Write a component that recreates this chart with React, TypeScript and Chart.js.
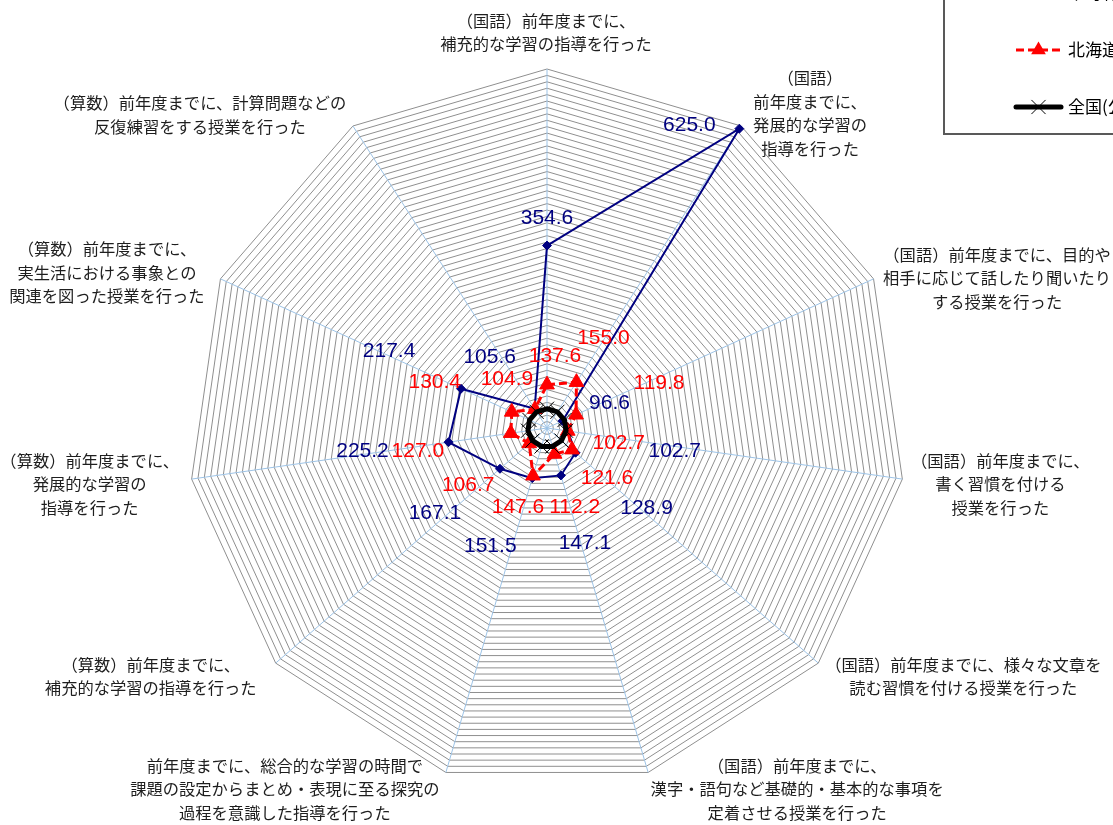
import React, { useEffect, useRef } from 'react';
import { Chart, registerables } from 'chart.js';

Chart.register(...registerables);

// ---- data ----
const categories: string[][] = [
  ['（国語）前年度までに、', '補充的な学習の指導を行った'],
  ['（国語）', '前年度までに、', '発展的な学習の', '指導を行った'],
  ['（国語）前年度までに、目的や', '相手に応じて話したり聞いたり', 'する授業を行った'],
  ['（国語）前年度までに、', '書く習慣を付ける', '授業を行った'],
  ['（国語）前年度までに、様々な文章を', '読む習慣を付ける授業を行った'],
  ['（国語）前年度までに、', '漢字・語句など基礎的・基本的な事項を', '定着させる授業を行った'],
  ['前年度までに、総合的な学習の時間で', '課題の設定からまとめ・表現に至る探究の', '過程を意識した指導を行った'],
  ['（算数）前年度までに、', '補充的な学習の指導を行った'],
  ['（算数）前年度までに、', '発展的な学習の', '指導を行った'],
  ['（算数）前年度までに、', '実生活における事象との', '関連を図った授業を行った'],
  ['（算数）前年度までに、計算問題などの', '反復練習をする授業を行った'],
];

const localName = '市町村(公立)';
const hokkaidoName = '北海道(公立)';
const nationalName = '全国(公立)';

const localValues = [354.6, 625.0, 96.6, 102.7, 128.9, 147.1, 151.5, 167.1, 225.2, 217.4, 105.6];
const hokkaidoValues = [137.6, 155.0, 119.8, 102.7, 121.6, 112.2, 147.6, 106.7, 127.0, 130.4, 104.9];
const nationalValues = [100, 100, 100, 100, 100, 100, 100, 100, 100, 100, 100];

const axisMin = 70;
const axisMax = 630;
const axisStep = 10;

// ---- label placement (pixel offsets from the data point / outer vertex) ----
const localLabelOffsets: [number, number][] = [
  [0, -28], [-50, -4], [47, -19], [107, 19], [71, 54], [24, 67],
  [-42, 67], [-65, 43], [-86, 8], [-72, -39], [-45, -53],
];
const hokkaidoLabelOffsets: [number, number][] = [
  [8, -29], [27, -45], [83, -33], [51, 11], [35, 28], [20, 52],
  [-15, 30], [-61, 41], [-93, 17], [-77, -31], [-28, -31],
];
const categoryLabelOffsets: [number, number][] = [
  [-1, -36.5], [69, -12.5], [123.5, -1], [98, 5], [145, 13], [149, 16.5],
  [-161, 16.5], [-125, 13], [-102, 5], [-113.5, -6.5], [-153, -11],
];

const NAVY = '#000080';
const RED = '#ff0000';
const BLACK = '#000000';
const CAT_FONT = '16.3px "Noto Sans CJK JP"';
const CAT_LINE_H = 23.5;
const NUM_FONT = '21px "Liberation Sans", Arial, sans-serif';

function drawMarker(ctx: CanvasRenderingContext2D, style: string, x: number, y: number, r: number, color: string) {
  ctx.save();
  ctx.fillStyle = color;
  ctx.strokeStyle = color;
  ctx.lineWidth = 1;
  ctx.setLineDash([]);
  ctx.beginPath();
  if (style === 'triangle') {
    for (let k = 0; k < 3; k++) {
      const a = (k * 2 * Math.PI) / 3;
      const px = x + Math.sin(a) * r;
      const py = y - Math.cos(a) * r;
      if (k === 0) ctx.moveTo(px, py); else ctx.lineTo(px, py);
    }
    ctx.closePath();
    ctx.fill();
  } else if (style === 'diamond') {
    ctx.moveTo(x, y - r); ctx.lineTo(x + r, y); ctx.lineTo(x, y + r); ctx.lineTo(x - r, y);
    ctx.closePath();
    ctx.fill();
  } else {
    const d = r * Math.SQRT1_2;
    ctx.moveTo(x - d, y - d); ctx.lineTo(x + d, y + d);
    ctx.moveTo(x + d, y - d); ctx.lineTo(x - d, y + d);
    ctx.stroke();
  }
  ctx.restore();
}

const overlayPlugin = {
  id: 'overlay',
  afterDatasetsDraw(chart: any) {
    const { ctx } = chart;
    const scale = chart.scales.r;
    ctx.save();

    // category labels
    ctx.font = CAT_FONT;
    ctx.fillStyle = '#1e1e1e';
    ctx.textAlign = 'center';
    ctx.textBaseline = 'middle';
    categories.forEach((lines, i) => {
      const p = scale.getPointPosition(i, scale.drawingArea);
      const [dx, dy] = categoryLabelOffsets[i];
      const cx = p.x + dx;
      const cy = p.y + dy;
      lines.forEach((t, j) => {
        ctx.fillText(t, cx, cy + (j - (lines.length - 1) / 2) * CAT_LINE_H);
      });
    });

    // value labels
    ctx.font = NUM_FONT;
    const drawValues = (dsIndex: number, values: number[], offsets: [number, number][], color: string) => {
      const meta = chart.getDatasetMeta(dsIndex);
      ctx.fillStyle = color;
      values.forEach((v, i) => {
        const el = meta.data[i];
        const [dx, dy] = offsets[i];
        ctx.fillText(v.toFixed(1), el.x + dx, el.y + dy + 1);
      });
    };
    drawValues(2, localValues, localLabelOffsets, NAVY);
    drawValues(1, hokkaidoValues, hokkaidoLabelOffsets, RED);

    // legend (partly outside the canvas, as in the original)
    ctx.setLineDash([]);
    ctx.lineWidth = 2;
    ctx.strokeStyle = '#595959';
    ctx.strokeRect(944, -20, 400, 154);

    ctx.font = '17px "Noto Sans CJK JP"';
    ctx.textAlign = 'left';
    ctx.textBaseline = 'middle';
    ctx.fillStyle = '#000';
    const entries = [
      { name: localName, y: -7, color: NAVY, width: 2, dash: [] as number[], marker: 'diamond', mr: 4.5 },
      { name: hokkaidoName, y: 50, color: RED, width: 3, dash: [8, 4], marker: 'triangle', mr: 8.5 },
      { name: nationalName, y: 107, color: BLACK, width: 5, dash: [] as number[], marker: 'cross', mr: 10 },
    ];
    entries.forEach((e) => {
      ctx.save();
      ctx.strokeStyle = e.color;
      ctx.lineWidth = e.width;
      ctx.lineCap = e.width >= 5 ? 'round' : 'butt';
      ctx.setLineDash(e.dash);
      ctx.beginPath();
      ctx.moveTo(1016, e.y);
      ctx.lineTo(1061, e.y);
      ctx.stroke();
      ctx.restore();
      drawMarker(ctx, e.marker, 1038.5, e.y, e.mr, e.color);
      ctx.fillStyle = '#000';
      ctx.fillText(e.name, 1068, e.y);
    });

    ctx.restore();
  },
};

export default function App() {
  const canvasRef = useRef<HTMLCanvasElement>(null);

  useEffect(() => {
    const canvas = canvasRef.current;
    if (!canvas) return;
    const chart = new Chart(canvas, {
      type: 'radar',
      data: {
        labels: categories.map((c) => c.join('')),
        datasets: [
          {
            label: nationalName,
            data: nationalValues,
            borderColor: BLACK,
            borderWidth: 5,
            pointStyle: 'crossRot',
            pointRadius: 10,
            pointBorderWidth: 1,
            pointBorderColor: BLACK,
            pointBackgroundColor: BLACK,
            fill: false,
            order: 0,
          },
          {
            label: hokkaidoName,
            data: hokkaidoValues,
            borderColor: RED,
            borderWidth: 3,
            borderDash: [8, 4],
            pointStyle: 'triangle',
            pointRadius: 8.5,
            pointBorderWidth: 1,
            pointBorderColor: RED,
            pointBackgroundColor: RED,
            fill: false,
            order: 1,
          },
          {
            label: localName,
            data: localValues,
            borderColor: NAVY,
            borderWidth: 2,
            pointStyle: 'rectRot',
            pointRadius: 4.5,
            pointBorderWidth: 1,
            pointBorderColor: NAVY,
            pointBackgroundColor: NAVY,
            fill: false,
            order: 2,
          },
        ],
      } as any,
      options: {
        responsive: false,
        animation: false,
        devicePixelRatio: 1,
        layout: { padding: { left: 188, right: 207, top: 69, bottom: 38 } },
        plugins: { legend: { display: false }, tooltip: { enabled: false } },
        elements: { line: { tension: 0 } },
        scales: {
          r: {
            min: axisMin,
            max: axisMax,
            ticks: { display: false, stepSize: axisStep },
            grid: { color: '#8f8f8f', lineWidth: 1, circular: false },
            angleLines: { color: '#9dc3e6', lineWidth: 1 },
            pointLabels: { display: false },
          },
        },
      } as any,
      plugins: [overlayPlugin],
    });
    return () => chart.destroy();
  }, []);

  return (
    <div style={{ position: 'absolute', left: 0, top: 0, width: 1113, height: 825, background: '#fff' }}>
      <canvas ref={canvasRef} width={1113} height={825} style={{ display: 'block', width: 1113, height: 825 }} />
    </div>
  );
}
